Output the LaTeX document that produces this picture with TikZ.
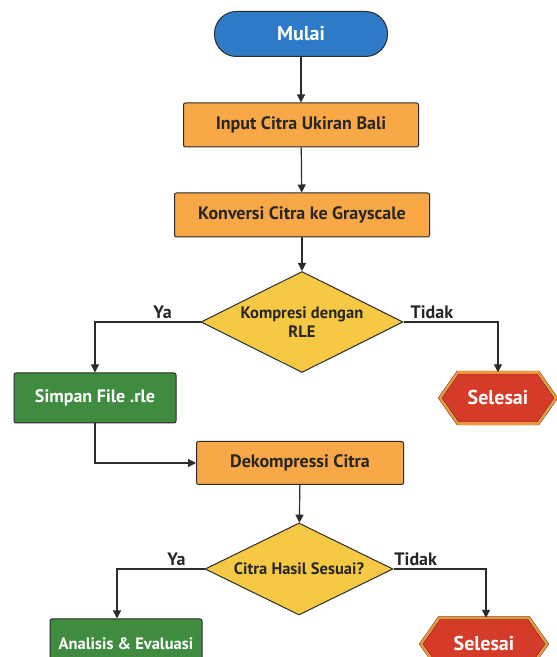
\documentclass[tikz,border=0pt]{standalone}
\usepackage{fontspec}
\setmainfont{PT Sans}
\usetikzlibrary{positioning,arrows.meta,shapes.geometric,shapes.symbols}

\definecolor{startblue}{HTML}{2F7AC6}
\definecolor{procorange}{HTML}{F8A846}
\definecolor{decyellow}{HTML}{F6C944}
\definecolor{savegreen}{HTML}{3F8C40}
\definecolor{stopred}{HTML}{D43B29}
\definecolor{stopring}{HTML}{F5953A}
\definecolor{edge}{HTML}{2B2B2B}

\begin{document}
\begin{tikzpicture}[x=1pt, y=1pt, font=\bfseries\fontsize{18}{21}\selectfont,
    terminal/.style={rectangle, rounded corners=22pt, draw=edge, line width=1pt, fill=startblue, text=white, minimum width=173pt, minimum height=45pt, font=\bfseries\fontsize{20}{22}\selectfont},
    procbox/.style={rectangle, rounded corners=2pt, draw=edge, line width=1pt, fill=procorange, text=black!85, minimum height=44pt},
    decision/.style={diamond, aspect=2, draw=edge, line width=1pt, fill=decyellow, text=black!85, inner sep=0pt, align=center, font=\bfseries\fontsize{16.5}{19.5}\selectfont},
    savebox/.style={rectangle, rounded corners=2pt, draw=edge, line width=1pt, fill=savegreen, text=white, minimum height=50pt},
    stopsign/.style={signal, signal to=east and west, signal pointer angle=110, draw=edge, double=stopring, double distance=2.6pt, fill=stopred, text=white, minimum height=51pt, font=\bfseries\fontsize{20}{22}\selectfont},
    arrow/.style={-{Triangle[length=8pt,width=8pt]}, line width=1.2pt, edge},
    lbl/.style={text=black!85, inner sep=3pt}]
    \useasboundingbox (0,0) rectangle (557,657);

    % main column
    \node[terminal] (start) at (301,623) {Mulai};
    \node[procbox, minimum width=235pt] (input) at (301,532) {Input Citra Ukiran Bali};
    \node[procbox, minimum width=255pt] (gray) at (302,442) {Konversi Citra ke Grayscale};
    \node[decision, minimum width=202pt, minimum height=101pt] (rle) at (302,335) {Kompresi dengan\\RLE};
    \node[savebox, minimum width=162pt] (save) at (95,259) {Simpan File .rle};
    \node[stopsign, minimum width=116pt] (stopa) at (498,259) {Selesai};
    \node[procbox, minimum width=207pt, minimum height=43pt] (decomp) at (300,194) {Dekompressi Citra};
    \node[decision, minimum width=188pt, minimum height=92pt] (check) at (299,88) {Citra Hasil Sesuai?};
    % bottom row, partly outside the page
    \node[savebox, minimum width=152pt, font=\bfseries\fontsize{16.5}{19}\selectfont] (eval) at (126,13) {Analisis \& Evaluasi};
    \node[stopsign, minimum width=126pt, minimum height=52pt] (stopb) at (484,13) {Selesai};

    \foreach \a/\b in {start/input,input/gray,gray/rle,decomp/check}{\draw[arrow] (\a) -- (\b);}

    \draw[arrow] (rle.west) -| node[lbl, pos=0.18, above] {Ya} (save.north);
    \draw[arrow] (rle.east) -| node[lbl, pos=0.15, above] {Tidak} (stopa.north);
    \draw[arrow] (save.south) |- (decomp.west);
    \draw[arrow] (check.west) -| node[lbl, pos=0.16, above] {Ya} ([xshift=-9pt]eval.north);
    \draw[arrow] (check.east) -| node[lbl, pos=0.12, above] {Tidak} ([xshift=2pt]stopb.north);
\end{tikzpicture}
\end{document}
